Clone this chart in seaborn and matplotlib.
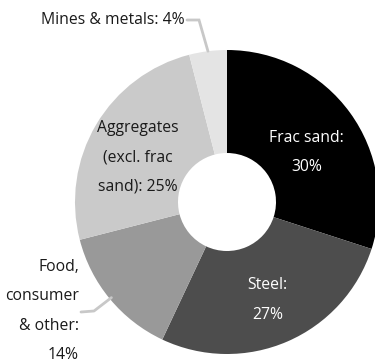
import numpy as np
import matplotlib
matplotlib.use("Agg")
import matplotlib.pyplot as plt
import seaborn as sns

# Share of demand by end market
segments = ["Frac sand", "Steel", "Food, consumer & other",
            "Aggregates (excl. frac sand)", "Mines & metals"]
shares = [30, 27, 14, 25, 4]
labels = ["Frac sand:\n30%", "Steel:\n27%", "Food,\nconsumer\n& other:\n14%",
          "Aggregates\n(excl. frac\nsand): 25%", "Mines & metals: 4%"]
colors = ["#000000", "#4d4d4d", "#999999", "#cacaca", "#e4e4e4"]

sns.set_theme(style="white")
plt.rcParams["font.family"] = ["Open Sans", "DejaVu Sans"]

W, H = 375, 360
fig = plt.figure(figsize=(W / 100, H / 100), dpi=100)
ax = fig.add_axes([0, 0, 1, 1])

cx, cy = 227, H - 202
r_out, r_in = 152, 49
wedges, _ = ax.pie(shares, colors=colors, startangle=90, counterclock=False,
                   radius=r_out, center=(cx, cy), frame=True,
                   wedgeprops=dict(width=r_out - r_in, edgecolor="none",
                                   linewidth=0))
ax.set_xlim(0, W)
ax.set_ylim(0, H)
ax.axis("off")

fs = 11.3
ls = 2.1

def mid(w):
    return (w.theta1 + w.theta2) / 2

# Inside labels: (radius, angle nudge in degrees, colour)
inside = {0: (94, -4, "white"), 1: (106, -1, "white"),
          3: (100, 4, "#1a1a1a")}
for i, (rr, da, col) in inside.items():
    a = np.deg2rad(mid(wedges[i]) + da)
    ax.text(cx + rr * np.cos(a), cy + rr * np.sin(a), labels[i],
            ha="center", va="center", color=col, fontsize=fs,
            linespacing=ls)

lc = "#c8c8c8"
# Mines & metals callout
a4 = np.deg2rad(mid(wedges[4]))
ex, ey = cx + r_out * np.cos(a4), cy + r_out * np.sin(a4)
ax.plot([ex, 199, 187], [ey, H - 20, H - 20], color=lc, lw=2,
        solid_joinstyle="miter")
ax.text(185, H - 20, labels[4], ha="right", va="center",
        color="#1a1a1a", fontsize=fs)

# Food, consumer & other callout
a2 = np.deg2rad(mid(wedges[2]))
ex, ey = cx + (r_out - 2) * np.cos(a2), cy + (r_out - 2) * np.sin(a2)
ax.plot([ex, 94, 81], [ey, H - 311, H - 312], color=lc, lw=2)
ax.text(79, H - 311, labels[2], ha="right", va="center",
        color="#1a1a1a", fontsize=fs, linespacing=ls)

fig.savefig("out.png", dpi=100)
